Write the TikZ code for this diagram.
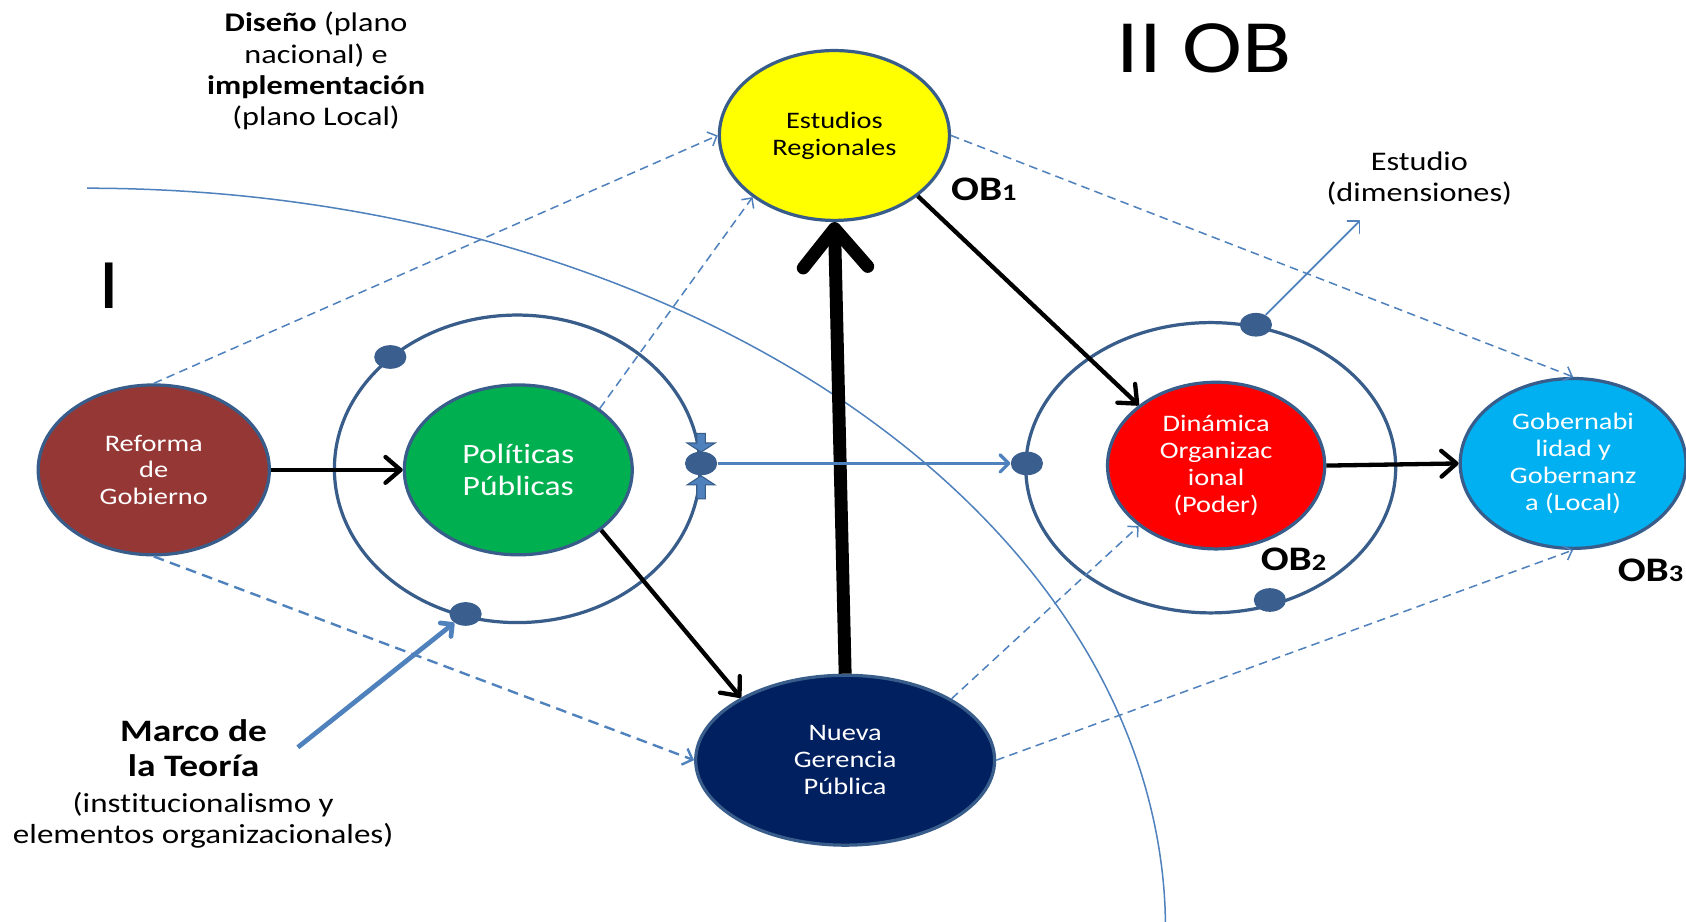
\documentclass[tikz,border=0pt]{standalone}
\usepackage{fontspec}
\setmainfont{Carlito}[FakeStretch=1.2,Ligatures=NoCommon]
\usetikzlibrary{shapes.geometric,arrows.meta,calc}
\definecolor{ringc}{HTML}{385D8A}
\definecolor{bluel}{HTML}{4F81BD}
\definecolor{dotc}{HTML}{3A5F8E}
\definecolor{rgc}{HTML}{953735}
\definecolor{ppc}{HTML}{00B050}
\definecolor{erc}{HTML}{FFFF00}
\definecolor{ngc}{HTML}{002060}
\definecolor{doc}{HTML}{FF0000}
\definecolor{ggc}{HTML}{00B0F0}
\newcommand\myfs[2]{\fontsize{#1}{#2}\selectfont}
\tikzset{
  blob/.style={ellipse, draw=ringc, line width=1.5pt, inner sep=0pt, align=center, text=white, font=\myfs{11}{12.5}},
  ringe/.style={ellipse, draw=ringc, line width=1.5pt, inner sep=0pt},
  dotn/.style={ellipse, fill=dotc, inner sep=0pt, minimum width=15pt, minimum height=11pt},
  blk/.style={draw=black, line width=2pt, -{Straight Barb[length=7pt,width=12pt,round]}},
  bigblk/.style={draw=black, line width=6pt, -{Straight Barb[length=18pt,width=30pt,round]}},
  dsh/.style={draw=bluel, line width=0.7pt, dash pattern=on 4pt off 2.5pt, -{Straight Barb[length=3.5pt,width=7pt]}},
  dshthick/.style={draw=bluel, line width=1.1pt, dash pattern=on 5pt off 3pt, -{Straight Barb[length=4pt,width=8pt]}},
  bln/.style={draw=bluel, -{Straight Barb[length=4pt,width=8pt,round]}},
  blockarr/.style={fill=bluel, draw=ringc, line width=0.5pt},
  lbl/.style={align=center, inner sep=0pt, text=black},
}
\begin{document}
\begin{tikzpicture}[x=0.5pt,y=-0.5pt]
\useasboundingbox (0,0) rectangle (1568,857);
\fill[white] (0,0) rectangle (1568,857);

% big arc
\draw[bluel, line width=0.7pt] plot[domain=90:0.6, samples=80, variable=\t, smooth] ({81+1003*cos(\t)}, {865-690*sin(\t)});

% rings
\node[ringe, minimum width=170pt, minimum height=143pt] (ring1) at (481,436) {};
\node[ringe, minimum width=172pt, minimum height=135pt] (ring2) at (1126,435) {};

% main nodes
\node[blob, fill=rgc, minimum width=107.5pt, minimum height=79pt] (rg) at (143,437) {Reforma\\de\\Gobierno};
\node[blob, fill=ppc, minimum width=106pt, minimum height=79pt, font=\myfs{13}{14.5}] (pp) at (482,437) {Políticas\\Públicas};
\node[blob, fill=erc, text=black, minimum width=107pt, minimum height=79pt] (er) at (776,126) {Estudios\\Regionales};
\node[blob, fill=ngc, minimum width=139pt, minimum height=79pt] (ng) at (786,707) {Nueva\\Gerencia\\Pública};
\node[blob, fill=doc, minimum width=101pt, minimum height=77.5pt] (do) at (1131,433) {Dinámica\\Organizac\\ional\\(Poder)};
\node[blob, fill=ggc, minimum width=105pt, minimum height=79pt] (gg) at (1463,431) {Gobernabi\\lidad y\\Gobernanz\\a (Local)};

% dots
\node[dotn] (d1a) at (363,332) {};
\node[dotn] (d1b) at (433,571) {};
\node[dotn] (d1c) at (652,431) {};
\node[dotn] (d2a) at (1168,302) {};
\node[dotn] (d2b) at (1181,558) {};
\node[dotn] (d2c) at (955,431) {};

% dashed connectors
\draw[dsh] (rg.north) -- (er.west);
\draw[dsh] (pp.37) -- (er.217);
\draw[dsh] (er.east) -- (gg.north);
\draw[dshthick] (rg.south) -- (ng.west);
\draw[dsh] (ng.30) -- (do.218);
\draw[dsh] (ng.east) -- (gg.south);

% black arrows
\draw[blk] (rg.east) -- (pp.west);
\draw[blk] (pp.-36) -- (ng.149);
\draw[bigblk] (ng.north) -- (er.south);
\draw[blk] (er.-36) -- (do.142);
\draw[blk] (do.east) -- (gg.west);

% blue solid arrows
\draw[bln, line width=1.5pt] (d1c.east) -- (d2c.west);
\coordinate (estH) at (1265,205);
\draw[bln, line width=0.8pt] (d2a) -- (estH);
\coordinate (marcoS) at (277,695);
\draw[bln, line width=2.2pt] (marcoS) -- (d1b.218);

% small block arrows at d1c
\begin{scope}[shift={(d1c.center)}]
\draw[blockarr] (-4,-28) -- (4,-28) -- (4,-19) -- (13,-19) -- (0,-10.5) -- (-13,-19) -- (-4,-19) -- cycle;
\draw[blockarr] (-4,33) -- (4,33) -- (4,20) -- (13,20) -- (0,11.5) -- (-13,20) -- (-4,20) -- cycle;
\end{scope}

% texts
\node[lbl, font=\myfs{12.5}{14.5}] (dis) at (294,66) {\textbf{Diseño} (plano\\nacional) e\\\textbf{implementación}\\(plano Local)};
\node[lbl, font=\myfs{35}{36}] (iiob) at (1120,45) {II OB};
\node[lbl, font=\myfs{33}{36}] (one) at (102,266) {I};
\node[lbl, font=\myfs{12.5}{14.5}] (estud) at (1320,166) {Estudio\\(dimensiones)};
\node[lbl, font=\bfseries\myfs{14.5}{16.5}] (marco) at (180,696) {Marco de\\la Teoría};
\node[lbl, font=\myfs{12.8}{14.5}] (inst) at (189,763) {(institucionalismo y\\elementos organizacionales)};
\node[lbl, font=\bfseries\myfs{16}{18}] (ob1) at (915,176) {OB{\myfs{11}{11}1}};
\node[lbl, font=\bfseries\myfs{16}{18}] (ob2) at (1203,520) {OB{\myfs{11}{11}2}};
\node[lbl, font=\bfseries\myfs{16}{18}] (ob3) at (1535,530) {OB{\myfs{11}{11}3}};
\end{tikzpicture}
\end{document}
